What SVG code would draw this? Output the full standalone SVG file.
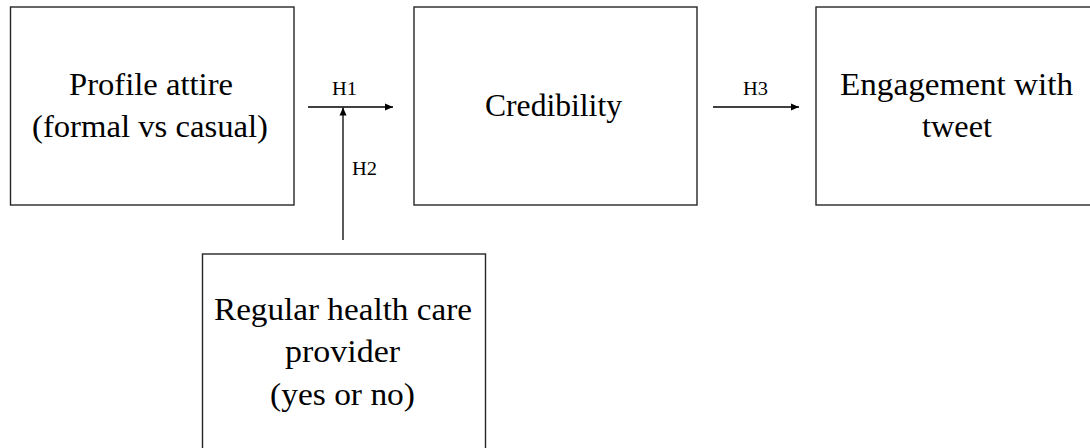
<svg xmlns="http://www.w3.org/2000/svg" width="1090" height="448" viewBox="0 0 1090 448">
<style>
.box{fill:#fff;stroke:#262626;stroke-width:1.4}
.t{font-family:"Liberation Serif","Times New Roman",serif;font-size:32px;fill:#000;text-anchor:middle}
.l{font-family:"Liberation Serif","Times New Roman",serif;font-size:18px;fill:#000}
.c{stroke:#000;stroke-width:1.3;fill:none}
</style>
<defs>
<marker id="ah" markerUnits="userSpaceOnUse" markerWidth="9" markerHeight="8" refX="8" refY="4" orient="auto">
<path d="M0,0.5 L8,4 L0,7.5 Z" fill="#000"/>
</marker>
</defs>
<rect width="1090" height="448" fill="#fff"/>
<g id="connectors">
<line class="c" x1="308" y1="107" x2="393" y2="107" marker-end="url(#ah)"/>
<line class="c" x1="343" y1="240" x2="343" y2="107.5" marker-end="url(#ah)"/>
<line class="c" x1="713" y1="107" x2="799" y2="107" marker-end="url(#ah)"/>
<text class="l" x="344.5" y="95" text-anchor="middle" textLength="25" lengthAdjust="spacingAndGlyphs">H1</text>
<text class="l" x="352" y="175" textLength="25" lengthAdjust="spacingAndGlyphs">H2</text>
<text class="l" x="755.5" y="95" text-anchor="middle" textLength="25" lengthAdjust="spacingAndGlyphs">H3</text>
</g>
<g id="profile-attire">
<rect class="box" x="10.5" y="7" width="283.5" height="198"/>
<text class="t" x="151" y="95" textLength="164" lengthAdjust="spacingAndGlyphs">Profile attire</text>
<text class="t" x="150" y="137" textLength="236" lengthAdjust="spacingAndGlyphs">(formal vs casual)</text>
</g>
<g id="credibility">
<rect class="box" x="414" y="7" width="283" height="198"/>
<text class="t" x="553.5" y="116" textLength="137" lengthAdjust="spacingAndGlyphs">Credibility</text>
</g>
<g id="engagement">
<rect class="box" x="816" y="7" width="290" height="198"/>
<text class="t" x="956.5" y="95" textLength="233" lengthAdjust="spacingAndGlyphs">Engagement  with</text>
<text class="t" x="957" y="137" textLength="70" lengthAdjust="spacingAndGlyphs">tweet</text>
</g>
<g id="health-care-provider">
<rect class="box" x="202.5" y="254" width="283" height="210"/>
<text class="t" x="343" y="320" textLength="258" lengthAdjust="spacingAndGlyphs">Regular health care</text>
<text class="t" x="342.5" y="362" textLength="115" lengthAdjust="spacingAndGlyphs">provider</text>
<text class="t" x="342.5" y="405" textLength="145" lengthAdjust="spacingAndGlyphs">(yes or no)</text>
</g>
</svg>
